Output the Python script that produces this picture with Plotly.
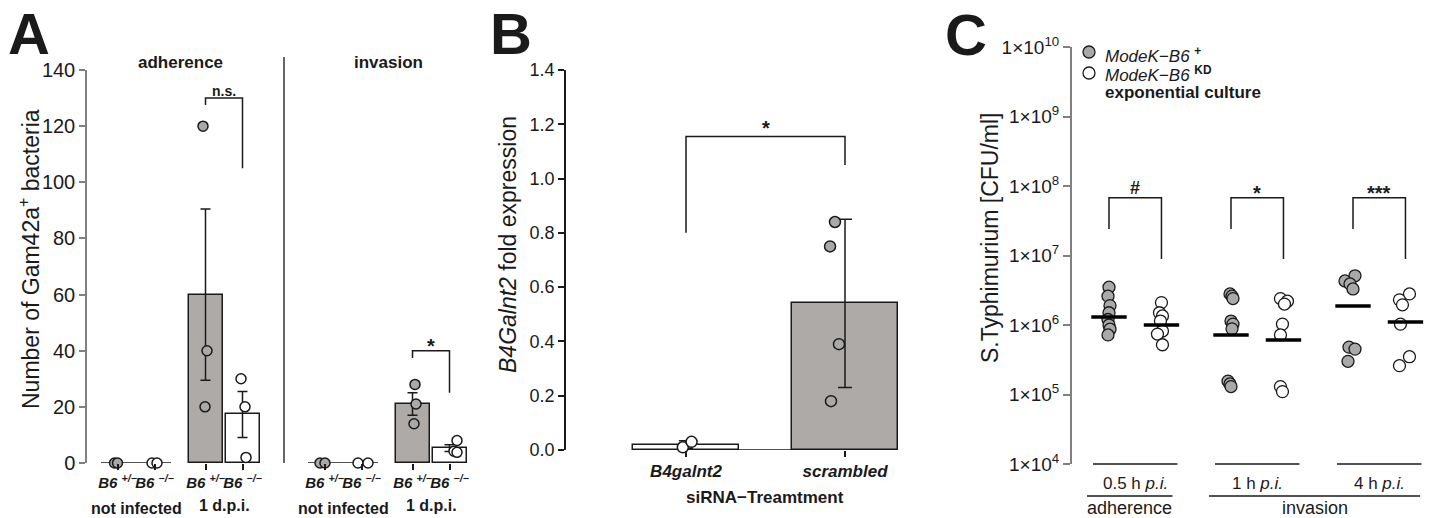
import plotly.graph_objects as go

W, H = 1432, 518


def fx(p):
    return p / W


def fy(p):
    return 1 - p / H


FONT = "Liberation Sans, Arial, Helvetica, sans-serif"
INK = "#1a1a1a"
GREY_BAR = "#aeaaa8"
GREY_PT = "#a9a9a9"
WHITE = "#ffffff"
AXGREY = "#808080"

# ---------------- Panel A data ----------------
A_panels = ["adherence", "invasion"]
A_conditions = ["not infected", "1 d.p.i."]
A_genotypes = ["B6 +/−", "B6 −/−"]
A_adh_ni_het = [0, 0]
A_adh_ni_ko = [0, 0]
A_adh_dpi_het = [120, 40, 20]
A_adh_dpi_ko = [30, 20, 2]
A_inv_ni_het = [0, 0]
A_inv_ni_ko = [0, 0]
A_inv_dpi_het = [28, 21, 14]
A_inv_dpi_ko = [8, 4.2, 3.8]
A_bar_mean = [60, 17.3, 21, 5.3]      # adh het, adh ko, inv het, inv ko (1 d.p.i.)
A_bar_sem = [30.5, 8.2, 4.0, 1.2]
A_yticks = [0, 20, 40, 60, 80, 100, 120, 140]
A_sig = ["n.s.", "*"]

# ---------------- Panel B data ----------------
B_categories = ["B4galnt2", "scrambled"]
B_pts_b4 = [0.01, 0.03]
B_pts_scr = [0.84, 0.75, 0.39, 0.18]
B_bar_mean = [0.02, 0.54]
B_bar_sd = [0.014, 0.31]
B_yticks = [0.0, 0.2, 0.4, 0.6, 0.8, 1.0, 1.2, 1.4]

# ---------------- Panel C data ----------------
C_times = ["0.5 h", "1 h", "4 h"]
C_phases = ["adherence", "invasion"]
C_pos_05 = [3.5e6, 2.6e6, 1.9e6, 1.5e6, 1.2e6, 1.0e6, 8.7e5, 7.2e5]
C_kd_05 = [2.1e6, 1.5e6, 1.35e6, 1.14e6, 8.2e5, 7.4e5, 5.2e5]
C_pos_1 = [2.8e6, 2.6e6, 2.4e6, 1.14e6, 1.03e6, 8.8e5, 1.56e5, 1.42e5, 1.3e5]
C_kd_1 = [2.4e6, 2.2e6, 2.0e6, 1.03e6, 7.2e5, 1.3e5, 1.1e5]
C_pos_4 = [5.1e6, 4.3e6, 3.9e6, 3.3e6, 4.8e5, 4.5e5, 3.0e5]
C_kd_4 = [2.8e6, 2.3e6, 1.95e6, 1.03e6, 3.5e5, 2.6e5]
C_median_pos = [1.3e6, 7.2e5, 1.87e6]
C_median_kd = [1.0e6, 6.1e5, 1.1e6]
C_sig = ["#", "*", "***"]
C_exponents = [4, 5, 6, 7, 8, 9, 10]

# ---------------- layout constants (positions / styles) ----------------
A_GROUP0, A_GROUP_STEP, A_PANEL_STEP, A_GENO_STEP = 136, 88, 207, 37
A_BAR_W = 34


def a_pos(p, g, k):
    return A_GROUP0 + p * A_PANEL_STEP + g * A_GROUP_STEP + (k - 0.5) * A_GENO_STEP


A_points = {
    (0, 0, 0): A_adh_ni_het, (0, 0, 1): A_adh_ni_ko,
    (0, 1, 0): A_adh_dpi_het, (0, 1, 1): A_adh_dpi_ko,
    (1, 0, 0): A_inv_ni_het, (1, 0, 1): A_inv_ni_ko,
    (1, 1, 0): A_inv_dpi_het, (1, 1, 1): A_inv_dpi_ko,
}
A_jitter = {
    (0, 0, 0): [-3, 0], (0, 0, 1): [-2.5, 2.5],
    (0, 1, 0): [-2.5, 1.5, -0.5], (0, 1, 1): [-1.5, 2.5, 3.5],
    (1, 0, 0): [-4.5, 0.5], (1, 0, 1): [-3.5, 6.5],
    (1, 1, 0): [2.5, 3.5, 1.5], (1, 1, 1): [7.5, 4.5, 7.5],
}

B_BAR_W = 0.667
B_jit_b4 = [-0.02, 0.035]
B_jit_scr = [-0.063, -0.094, -0.038, -0.088]

C_UNIT = 122.0
C_KD_OFF = 0.43


def c_pos(i, k):
    return i + k * C_KD_OFF


C_series = {
    (0, 0): C_pos_05, (0, 1): C_kd_05,
    (1, 0): C_pos_1, (1, 1): C_kd_1,
    (2, 0): C_pos_4, (2, 1): C_kd_4,
}
C_jit_px = {
    (0, 0): [0, -1, 1, 0, -1, 0, 1, -1],
    (0, 1): [0, -2, 1, -1, 1, -4, 1],
    (1, 0): [-1, 1, 2, 0, 2, 1, -3, -1, 0],
    (1, 1): [-3, 4, 1, -1, -3, -3, -1],
    (2, 0): [2, -8, -3, 0, -4, 2, -5],
    (2, 1): [4, -6, -3, -5, 4, -6],
}

fig = go.Figure()

# ======================= Panel A =======================
bx, bcol = [], []
for p in range(2):
    for k in range(2):
        bx.append(a_pos(p, 1, k))
        bcol.append(GREY_BAR if k == 0 else WHITE)
fig.add_trace(go.Bar(
    x=bx, y=A_bar_mean, width=A_BAR_W, xaxis="x", yaxis="y",
    marker=dict(color=bcol, line=dict(color=INK, width=1.5)),
    error_y=dict(type="data", array=A_bar_sem, color=INK, thickness=1.5, width=5),
))
# not-infected baselines
for p in range(2):
    c = A_GROUP0 + p * A_PANEL_STEP
    fig.add_trace(go.Scatter(x=[c - 35, c + 35], y=[0, 0], mode="lines",
                             line=dict(color=INK, width=1.5), xaxis="x", yaxis="y",
                             cliponaxis=False))
# points
for key, vals in A_points.items():
    p, g, k = key
    xs = [a_pos(p, g, k) + j for j in A_jitter[key]]
    fig.add_trace(go.Scatter(
        x=xs, y=vals, mode="markers", xaxis="x", yaxis="y", cliponaxis=False,
        marker=dict(size=10, color=GREY_PT if k == 0 else WHITE,
                    line=dict(color=INK, width=1.5)),
    ))
# brackets
brA = [
    (0, [127.5, 130, 130, 105]),
    (1, [37.4, 40, 40, 25]),
]
for p, ys in brA:
    x0, x1 = a_pos(p, 1, 0), a_pos(p, 1, 1)
    fig.add_trace(go.Scatter(x=[x0, x0, x1, x1], y=ys, mode="lines", xaxis="x", yaxis="y",
                             line=dict(color=INK, width=1.5), cliponaxis=False))

# ======================= Panel B =======================
fig.add_trace(go.Scatter(x=[-B_BAR_W / 2, 1 + B_BAR_W / 2], y=[0, 0], mode="lines",
                         xaxis="x2", yaxis="y2", line=dict(color=INK, width=1.5),
                         cliponaxis=False))
fig.add_trace(go.Bar(
    x=[0, 1], y=B_bar_mean, width=B_BAR_W, xaxis="x2", yaxis="y2",
    marker=dict(color=[WHITE, GREY_BAR], line=dict(color=INK, width=1.5)),
    error_y=dict(type="data", array=B_bar_sd, color=INK, thickness=1.5, width=7),
))
fig.add_trace(go.Scatter(
    x=[0 + j for j in B_jit_b4], y=B_pts_b4, mode="markers", xaxis="x2", yaxis="y2",
    cliponaxis=False,
    marker=dict(size=11, color=WHITE, line=dict(color=INK, width=1.5))))
fig.add_trace(go.Scatter(
    x=[1 + j for j in B_jit_scr], y=B_pts_scr, mode="markers", xaxis="x2", yaxis="y2",
    cliponaxis=False,
    marker=dict(size=11, color=GREY_PT, line=dict(color=INK, width=1.5))))
fig.add_trace(go.Scatter(x=[0, 0, 1, 1], y=[0.8, 1.155, 1.155, 1.05], mode="lines",
                         xaxis="x2", yaxis="y2", line=dict(color=INK, width=1.5),
                         cliponaxis=False))

# ======================= Panel C =======================
for key, vals in C_series.items():
    i, k = key
    xs = [c_pos(i, k) + j / C_UNIT for j in C_jit_px[key]]
    fig.add_trace(go.Scatter(
        x=xs, y=vals, mode="markers", xaxis="x3", yaxis="y3", cliponaxis=False,
        marker=dict(size=12, color=GREY_PT if k == 0 else WHITE,
                    line=dict(color=INK, width=1.3))))
mx, my = [], []
for i in range(3):
    for k, med in ((0, C_median_pos[i]), (1, C_median_kd[i])):
        c = c_pos(i, k)
        mx += [c - 0.145, c + 0.145, None]
        my += [med, med, None]
fig.add_trace(go.Scatter(x=mx, y=my, mode="lines", xaxis="x3", yaxis="y3",
                         line=dict(color="#000000", width=3.5), cliponaxis=False))
for i in range(3):
    x0, x1 = c_pos(i, 0), c_pos(i, 1)
    fig.add_trace(go.Scatter(x=[x0, x0, x1, x1], y=[10 ** 7.38, 10 ** 7.83, 10 ** 7.83, 10 ** 6.95],
                             mode="lines", xaxis="x3", yaxis="y3",
                             line=dict(color=INK, width=1.5), cliponaxis=False))

# ======================= annotations & shapes =======================
ann = []
shapes = []


def text(x, y, t, size, xref="paper", yref="paper", xanchor="center", yanchor="middle", **kw):
    d = dict(x=x, y=y, xref=xref, yref=yref, text=t, showarrow=False,
             xanchor=xanchor, yanchor=yanchor,
             font=dict(family=FONT, size=size, color=INK))
    d.update(kw)
    ann.append(d)


# panel letters
text(fx(29), fy(34), "<b>A</b>", 58)
text(fx(511), fy(34), "<b>B</b>", 58)
text(fx(966), fy(35), "<b>C</b>", 58)

# Panel A texts
text(fx(29), fy(259), "Number of Gam42a<sup>+</sup> bacteria", 23, textangle=-90)
text(fx(180), fy(63), "<b>" + A_panels[0] + "</b>", 17)
text(fx(388), fy(63), "<b>" + A_panels[1] + "</b>", 17)
for p in range(2):
    for g in range(2):
        cx = A_GROUP0 + p * A_PANEL_STEP + g * A_GROUP_STEP
        text(cx, fy(508 if g == 0 else 505), "<b>" + A_conditions[g] + "</b>", 16, xref="x")
text(a_pos(0, 1, 0) + A_GENO_STEP / 2, fy(91), "<b>" + A_sig[0] + "</b>", 14, xref="x")
text(a_pos(1, 1, 0) + A_GENO_STEP / 2, fy(346), "<b>" + A_sig[1] + "</b>", 20, xref="x")
shapes.append(dict(type="line", xref="paper", yref="paper", x0=fx(284), x1=fx(284),
                   y0=fy(57), y1=fy(463), line=dict(color="#333333", width=1.5)))

# Panel B texts
text(fx(508), fy(245), "<i>B4Galnt2</i> fold expression", 23, textangle=-90)
text(0.5, 1.2, "<b>*</b>", 20, xref="x2", yref="y2", yshift=-4)
text(fx(765), fy(497), "<b>siRNA−Treamtment</b>", 17)

# Panel C texts
text(fx(990), fy(238), "S.Typhimurium [CFU/ml]", 23, textangle=-90)
for i in range(3):
    cx = (c_pos(i, 0) + c_pos(i, 1)) / 2
    sig_y = {"#": 188, "*": 193, "***": 193}[C_sig[i]]
    text(cx, fy(sig_y), "<b>" + C_sig[i] + "</b>", 18 if C_sig[i] == "#" else 20, xref="x3")
    text(cx, fy(483), C_times[i] + " <i>p.i.</i>", 17, xref="x3")
    shapes.append(dict(type="line", xref="x3", yref="paper",
                       x0=c_pos(i, 0) - 16 / C_UNIT, x1=c_pos(i, 1) + 16 / C_UNIT,
                       y0=fy(464), y1=fy(464), line=dict(color=INK, width=1.5)))
phase_spans = [(c_pos(0, 0) - 0.18, c_pos(0, 1) + 0.09), (c_pos(1, 0) - 0.18, c_pos(2, 1) + 0.12)]
for (a, b), lab in zip(phase_spans, C_phases):
    shapes.append(dict(type="line", xref="x3", yref="paper", x0=a, x1=b,
                       y0=fy(496), y1=fy(496), line=dict(color=INK, width=1.5)))
    text((a + b) / 2, fy(508), lab, 18, xref="x3")

# legend C
shapes.append(dict(type="circle", xref="paper", yref="paper", x0=fx(1083), x1=fx(1095),
                   y0=fy(58), y1=fy(46), fillcolor=GREY_PT, line=dict(color=INK, width=1.3)))
shapes.append(dict(type="circle", xref="paper", yref="paper", x0=fx(1083), x1=fx(1095),
                   y0=fy(79), y1=fy(67), fillcolor=WHITE, line=dict(color=INK, width=1.3)))
text(fx(1103), fy(55), "<i>ModeK−B6</i> <sup><b>+</b></sup>", 17, xanchor="left")
text(fx(1103), fy(74), "<i>ModeK−B6</i> <sup><b>KD</b></sup>", 17, xanchor="left")
text(fx(1103), fy(93), "<b>exponential culture</b>", 17, xanchor="left")

# ======================= axes =======================
A_ticktext = ["<b><i>B6 <sup>+/−</sup></i></b>", "<b><i>B6 <sup>−/−</sup></i></b>"]
a_tickvals, a_ticktext = [], []
for p in range(2):
    for g in range(2):
        for k in range(2):
            a_tickvals.append(a_pos(p, g, k))
            a_ticktext.append(A_ticktext[k])


def tickfont(s):
    return dict(family=FONT, size=s, color=INK)


fig.update_layout(
    width=W, height=H, margin=dict(l=0, r=0, t=0, b=0, pad=0, autoexpand=False),
    paper_bgcolor="white", plot_bgcolor="white", showlegend=False, bargap=0,
    font=dict(family=FONT, color=INK),
    annotations=ann, shapes=shapes,
    xaxis=dict(domain=[fx(87), fx(475)], range=[87, 475], showline=False, showgrid=False,
               zeroline=False, ticks="outside", ticklen=6, tickwidth=1.5, tickcolor=INK,
               tickvals=a_tickvals, ticktext=a_ticktext, tickfont=tickfont(15),
               tickangle=0, automargin=False, anchor="y", fixedrange=True),
    yaxis=dict(domain=[fy(463), fy(70)], range=[0, 140], tickvals=A_yticks,
               showline=True, linecolor=AXGREY, linewidth=1.5, ticks="outside",
               ticklen=6, tickwidth=1.5, tickcolor=AXGREY, showgrid=False, zeroline=False,
               tickfont=tickfont(20), automargin=False, anchor="x"),
    xaxis2=dict(domain=[fx(566), fx(930)], range=[-(686 - 566) / 159, 1 + (930 - 845) / 159],
                showline=False, showgrid=False, zeroline=False, ticks="outside", ticklen=6,
                tickwidth=1.5, tickcolor=INK, tickvals=[0, 1],
                ticktext=["<b><i>" + c + "</i></b>" for c in B_categories],
                tickfont=tickfont(17), tickangle=0, automargin=False, anchor="y2"),
    yaxis2=dict(domain=[fy(450), fy(70)], range=[0, 1.4], tickvals=B_yticks, tickformat=".1f",
                showline=True, linecolor=INK, linewidth=1.5, ticks="outside", ticklen=6,
                tickwidth=1.5, tickcolor=INK, showgrid=False, zeroline=False,
                tickfont=tickfont(18), automargin=False, anchor="x2"),
    xaxis3=dict(domain=[fx(1072), 1.0], range=[-(1109 - 1072) / C_UNIT, (1432 - 1109) / C_UNIT],
                visible=False, automargin=False, anchor="y3"),
    yaxis3=dict(domain=[fy(464), fy(47)], type="log", range=[4, 10],
                tickvals=[10 ** e for e in C_exponents],
                ticktext=["1×10<sup>%d</sup>" % e for e in C_exponents],
                showline=True, linecolor=AXGREY, linewidth=2, ticks="outside", ticklen=7,
                tickwidth=1.5, tickcolor=AXGREY, showgrid=False, zeroline=False,
                tickfont=tickfont(19), automargin=False, anchor="x3"),
)

fig.write_html("out.html")
